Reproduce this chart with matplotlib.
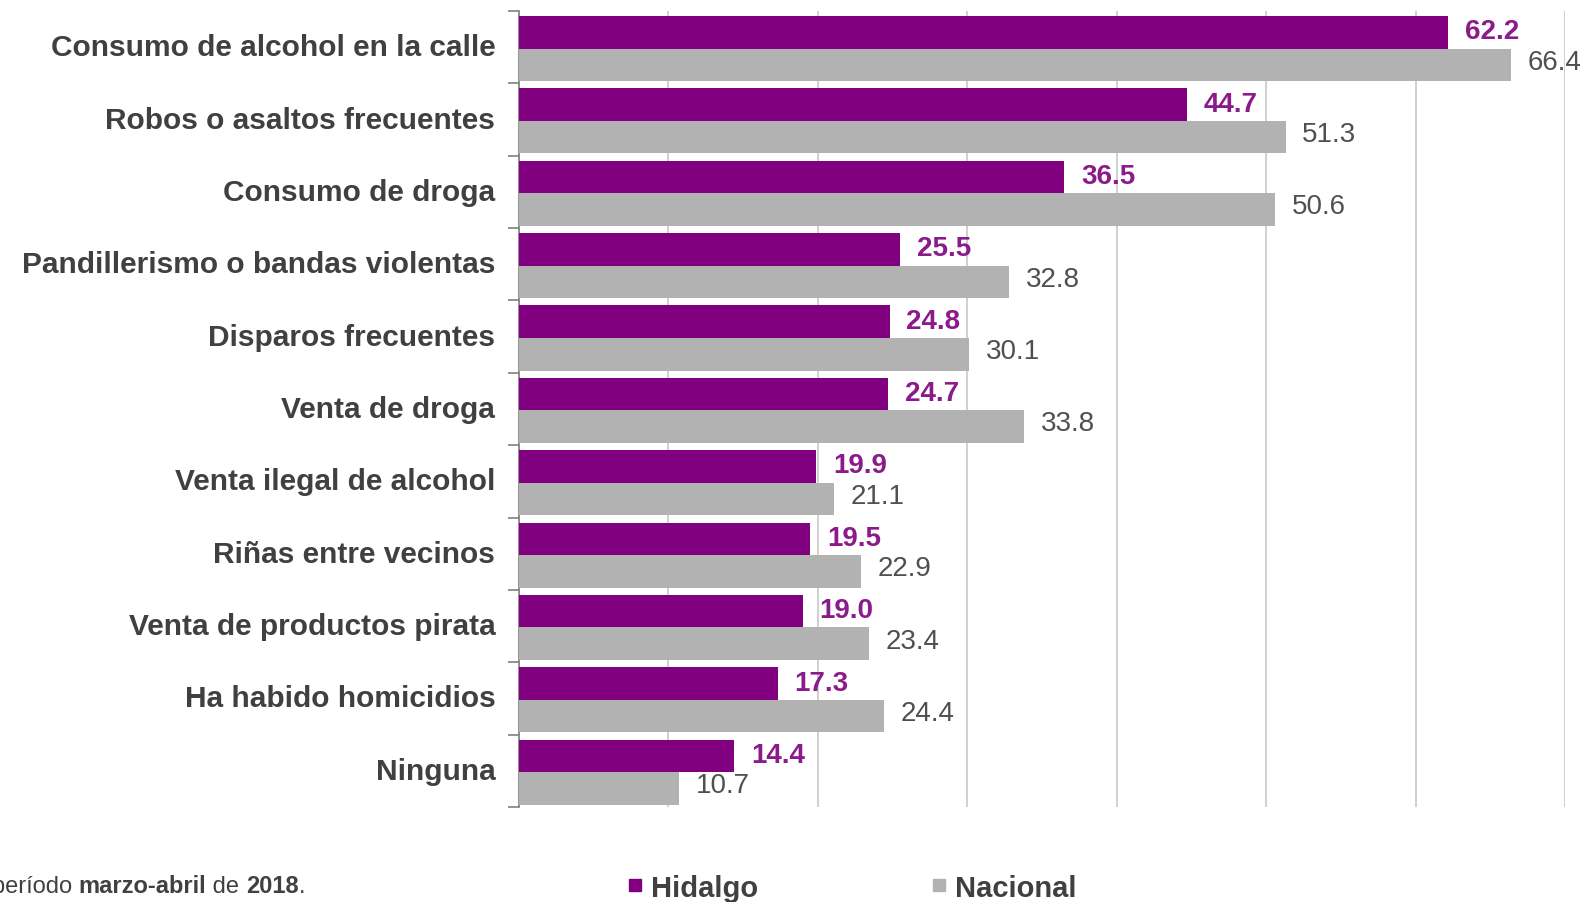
import matplotlib
matplotlib.use("Agg")
import matplotlib.pyplot as plt
from matplotlib.lines import Line2D
import numpy as np

plt.rcParams['font.family'] = ['Liberation Sans', 'DejaVu Sans']

categories = [
    "Consumo de alcohol en la calle",
    "Robos o asaltos frecuentes",
    "Consumo de droga",
    "Pandillerismo o bandas violentas",
    "Disparos frecuentes",
    "Venta de droga",
    "Venta ilegal de alcohol",
    "Riñas entre vecinos",
    "Venta de productos pirata",
    "Ha habido homicidios",
    "Ninguna",
]
hidalgo = [62.2, 44.7, 36.5, 25.5, 24.8, 24.7, 19.9, 19.5, 19.0, 17.3, 14.4]
nacional = [66.4, 51.3, 50.6, 32.8, 30.1, 33.8, 21.1, 22.9, 23.4, 24.4, 10.7]
series_names = ["Hidalgo", "Nacional"]

PURPLE = "#800080"
GRAY = "#b2b2b2"
TXT = "#404040"

fig = plt.figure(figsize=(15.9, 9.03), dpi=100)
ax = fig.add_axes([0.3264, 0.1052, 0.9843 - 0.3264, 0.9867 - 0.1052])

y = np.arange(len(categories))
h = 0.45
ax.barh(y - 0.206, hidalgo, height=h, color=PURPLE, zorder=3)
ax.barh(y + 0.244, nacional, height=h, color=GRAY, zorder=3)

for yi, v in zip(y, hidalgo):
    ax.annotate(f"{v:.1f}", (v, yi - 0.22), xytext=(12, 0), textcoords="offset points",
                va="center", ha="left", fontsize=20, fontweight="bold", color="#8b1a8b", zorder=4)
for yi, v in zip(y, nacional):
    ax.annotate(f"{v:.1f}", (v, yi + 0.2), xytext=(12, 0), textcoords="offset points",
                va="center", ha="left", fontsize=20, color="#505050", zorder=4)

ax.set_xlim(0, 70)
ax.set_ylim(len(categories) - 0.5, -0.5)
ax.set_xticks(np.arange(0, 71, 10))
ax.set_xticklabels([])
ax.tick_params(axis='x', length=0)
ax.grid(axis='x', color="#c8c8c8", linewidth=1.2, zorder=0)

ax.set_yticks(np.arange(-0.5, len(categories), 1.0))
ax.set_yticklabels([])
ax.tick_params(axis='y', length=8, width=1.2, color="#808080", direction="out")
ax.set_yticks(y, minor=True)
ax.set_yticklabels(categories, minor=True, fontsize=21.5, fontweight="bold", color=TXT)
ax.tick_params(axis='y', which='minor', length=0, pad=17)
for lbl in ax.get_yticklabels(minor=True):
    lbl.set_va("center")

for s in ["top", "right", "bottom"]:
    ax.spines[s].set_visible(False)
ax.spines["left"].set_color("#808080")
ax.spines["left"].set_linewidth(1.2)

# footnote
FS = 17
t1 = fig.text(-0.005, 0.011, "período ", fontsize=FS, color=TXT, ha="left", va="baseline")
t2 = ax.annotate("marzo-abril", xy=(1, 0), xycoords=t1, fontsize=FS, fontweight="bold", color=TXT, va="bottom", ha="left", annotation_clip=False)
t3 = ax.annotate(" de ", xy=(1, 0), xycoords=t2, fontsize=FS, color=TXT, va="bottom", ha="left", annotation_clip=False)
t4 = ax.annotate("2018", xy=(1, 0), xycoords=t3, fontsize=FS, fontweight="bold", color=TXT, va="bottom", ha="left", annotation_clip=False)
t5 = ax.annotate(".", xy=(1, 0), xycoords=t4, fontsize=FS, color=TXT, va="bottom", ha="left", annotation_clip=False)

handles = [Line2D([], [], marker='s', linestyle='none', markersize=9, color=PURPLE),
           Line2D([], [], marker='s', linestyle='none', markersize=9, color=GRAY)]
leg = fig.legend(handles, series_names, loc="center left", bbox_to_anchor=(0.3775, 0.016),
                 ncol=2, frameon=False, handlelength=0.6, handletextpad=0.25,
                 columnspacing=5.9, prop={'size': 21, 'weight': 'bold'})
for t in leg.get_texts():
    t.set_color(TXT)

fig.savefig("out.png", dpi=100)
